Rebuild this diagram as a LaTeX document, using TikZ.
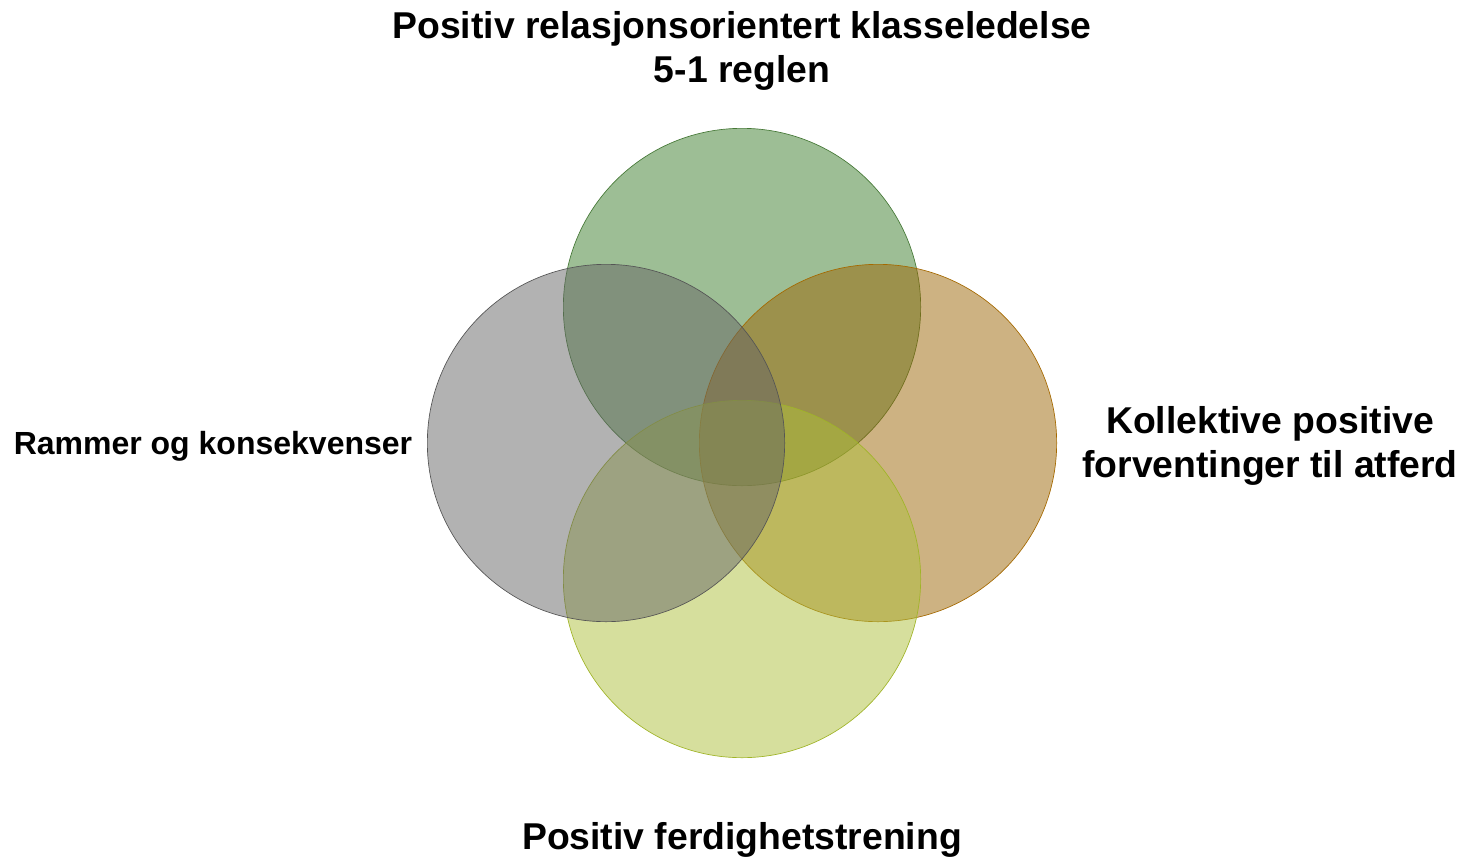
\documentclass[tikz,border=0pt]{standalone}
\usepackage{fontspec}
\setmainfont{Liberation Sans}
\usepackage{tikz}

\definecolor{relgreen}{RGB}{59,125,43}
\definecolor{relgreenline}{RGB}{70,120,55}
\definecolor{rammegray}{RGB}{101,101,101}
\definecolor{rammegrayline}{RGB}{85,85,85}
\definecolor{forvtan}{RGB}{155,101,5}
\definecolor{forvtanline}{RGB}{165,105,0}
\definecolor{ferdlime}{RGB}{173,191,59}
\definecolor{ferdlimeline}{RGB}{160,180,40}

\tikzset{
	ring/.style={circle,minimum size=268pt,inner sep=0pt,fill opacity=0.5,line width=0.5pt},
	lbl/.style={font=\bfseries\fontsize{28}{33.6}\selectfont,align=center,inner sep=0pt}
}

\begin{document}
\begin{tikzpicture}[x=0.75pt,y=-0.75pt]
	
	\useasboundingbox (0,0) rectangle (1462,858);
	
	% Draw circles
	\node[ring,fill=relgreen,draw=relgreenline] (rel) at (742,307) {};
	\node[ring,fill=forvtan,draw=forvtanline] (forv) at (878,443) {};
	\node[ring,fill=ferdlime,draw=ferdlimeline] (ferd) at (742,579) {};
	\node[ring,fill=rammegray,draw=rammegrayline] (ramme) at (606,443) {};
	
	% Draw labels
	\node[lbl] (reltext) at (742,51) {Positiv relasjonsorientert klasseledelse\\5-1 reglen};
	\node[lbl,font=\bfseries\fontsize{24}{28.8}\selectfont] (rammetext) at (213,446) {Rammer og konsekvenser};
	\node[lbl] (forvtext) at (1270,446) {Kollektive positive\\forventinger til atferd};
	\node[lbl] (ferdtext) at (742,840) {Positiv ferdighetstrening};
	
\end{tikzpicture}
\end{document}
